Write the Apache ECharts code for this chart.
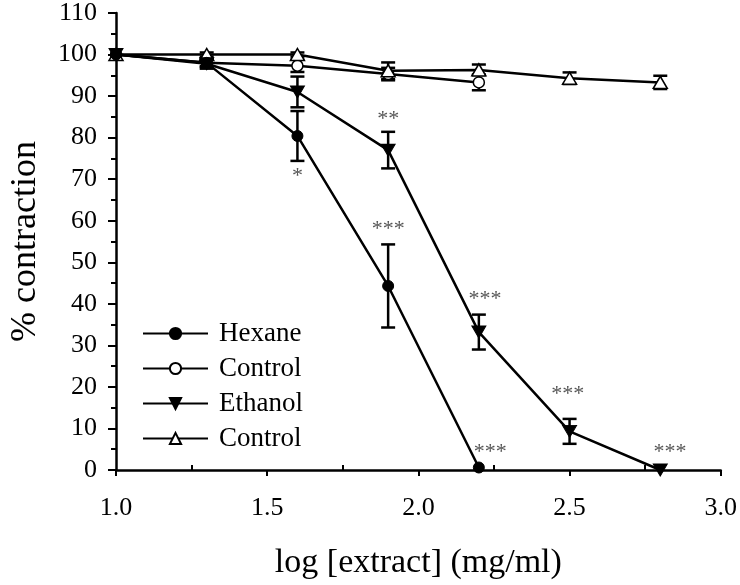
<!DOCTYPE html>
<html>
<head>
<meta charset="utf-8">
<script src="https://cdn.jsdelivr.net/npm/echarts@6/dist/echarts.min.js"></script>
<style>
  html, body { margin: 0; padding: 0; background: #fff; }
  #main { width: 740px; height: 585px; }
</style>
</head>
<body>
<div id="main"></div>
<script>
// log [extract] values
const logDose = [1.0, 1.3, 1.6, 1.9, 2.2, 2.5, 2.8];

// % contraction, mean and error
const hexane = [100, 98, 80.4, 44.3, 0.6];
const hexaneErr = [0, 1, 6, 10, 0];
const hexaneCtrl = [100, 98, 97.3, 95.3, 93.3];
const hexaneCtrlErr = [0, 0.8, 1.5, 1.5, 1.9];
const ethanol = [100, 97.8, 91, 77, 33.2, 9.3, 0];
const ethanolErr = [0, 1.2, 3.7, 4.4, 4.2, 3, 0];
const ethanolCtrl = [100, 100, 100, 96.1, 96.3, 94.3, 93.3];
const ethanolCtrlErr = [0, 0.5, 0.5, 2, 1.3, 1.4, 1.6];

// significance marks [x, y, text]
const stars = [
  [1.6, 70.8, '*'],
  [1.9, 84.4, '**'],
  [1.9, 58.0, '***'],
  [2.22, 41.1, '***'],
  [2.494, 18.3, '***'],
  [2.238, 4.4, '***'],
  [2.832, 4.4, '***']
];

const font = 'Liberation Serif';

function pairs(vals, errs) {
  return vals.map((v, i) => errs ? [logDose[i], v, errs[i]] : [logDose[i], v]);
}

function renderErr(params, api) {
  const x = api.value(0), y = api.value(1), e = api.value(2);
  if (!e) return;
  const top = api.coord([x, y + e]);
  const bot = api.coord([x, y - e]);
  const hw = 7;
  const style = { stroke: '#000', lineWidth: 2.5 };
  return {
    type: 'group',
    children: [
      { type: 'line', shape: { x1: top[0], y1: top[1], x2: bot[0], y2: bot[1] }, style: style },
      { type: 'line', shape: { x1: top[0] - hw, y1: top[1], x2: top[0] + hw, y2: top[1] }, style: style },
      { type: 'line', shape: { x1: bot[0] - hw, y1: bot[1], x2: bot[0] + hw, y2: bot[1] }, style: style }
    ]
  };
}

function renderStar(params, api) {
  const p = api.coord([api.value(0), api.value(1)]);
  return {
    type: 'text',
    x: p[0],
    y: p[1],
    style: {
      text: stars[params.dataIndex][2],
      fill: '#555',
      font: '22px "' + font + '"',
      align: 'center',
      verticalAlign: 'middle'
    }
  };
}

function errSeries(vals, errs) {
  return {
    type: 'custom',
    renderItem: renderErr,
    data: pairs(vals, errs),
    encode: { x: 0, y: 1 },
    z: 1,
    silent: true
  };
}

function lineSeries(name, vals, symbol, filled, size, rotate) {
  return {
    name: name,
    type: 'line',
    data: pairs(vals),
    symbol: symbol,
    symbolSize: size,
    symbolRotate: rotate || 0,
    showSymbol: true,
    lineStyle: { color: '#000', width: 2.5 },
    itemStyle: filled
      ? { color: '#000', borderColor: '#000', borderWidth: 1 }
      : { color: '#fff', borderColor: '#000', borderWidth: 1.5 },
    z: 3,
    emphasis: { disabled: true }
  };
}

const chart = echarts.init(document.getElementById('main'));

const option = {
  animation: false,
  backgroundColor: '#fff',
  grid: { left: 111, right: 17, top: 9, bottom: 113 },
  legend: {
    orient: 'vertical',
    left: 137,
    top: 315,
    itemWidth: 65,
    itemHeight: 14,
    itemGap: 8,
    selectedMode: false,
    data: ['Hexane', 'Control (hexane)', 'Ethanol', 'Control (ethanol)'],
    formatter: function (name) {
      return name.indexOf('Control') === 0 ? 'Control' : name;
    },
    textStyle: { fontFamily: font, fontSize: 27, lineHeight: 27, color: '#000', padding: [0, 0, 0, 6] }
  },
  xAxis: [
    {
      type: 'value',
      min: 1,
      max: 3,
      interval: 0.5,
      name: 'log [extract] (mg/ml)',
      nameLocation: 'middle',
      nameGap: 76,
      nameTextStyle: { fontFamily: font, fontSize: 34, color: '#000' },
      axisLine: { lineStyle: { color: '#000', width: 2.5 } },
      axisTick: { length: 6, lineStyle: { color: '#000', width: 2 } },
      splitLine: { show: false },
      axisLabel: {
        fontFamily: font,
        fontSize: 26,
        color: '#000',
        margin: 25,
        formatter: function (v) { return v.toFixed(1); }
      }
    },
    {
      type: 'value',
      position: 'bottom',
      min: 1,
      max: 3,
      interval: 0.5,
      axisLine: { show: false },
      axisTick: { show: false, inside: true },
      minorTick: { show: true, splitNumber: 2, length: 5, lineStyle: { color: '#000', width: 2 } },
      axisLabel: { show: false },
      splitLine: { show: false }
    }
  ],
  yAxis: {
    type: 'value',
    min: 0,
    max: 110,
    interval: 10,
    name: '% contraction',
    nameLocation: 'middle',
    nameGap: 72,
    nameTextStyle: { fontFamily: font, fontSize: 36, color: '#000' },
    axisLine: { show: true, lineStyle: { color: '#000', width: 2.5 } },
    axisTick: { show: true, length: 8, lineStyle: { color: '#000', width: 2 } },
    minorTick: { show: true, splitNumber: 2, length: 5, lineStyle: { color: '#000', width: 2 } },
    splitLine: { show: false },
    axisLabel: { fontFamily: font, fontSize: 26, color: '#000', margin: 19 }
  },
  series: [
    errSeries(hexaneCtrl, hexaneCtrlErr),
    errSeries(ethanolCtrl, ethanolCtrlErr),
    errSeries(hexane, hexaneErr),
    errSeries(ethanol, ethanolErr),
    lineSeries('Control (hexane)', hexaneCtrl, 'circle', false, 11),
    lineSeries('Control (ethanol)', ethanolCtrl, 'triangle', false, [14, 12]),
    lineSeries('Hexane', hexane, 'circle', true, 11),
    lineSeries('Ethanol', ethanol, 'triangle', true, [14, 12], 180),
    {
      type: 'custom',
      renderItem: renderStar,
      data: stars.map(s => [s[0], s[1]]),
      encode: { x: 0, y: 1 },
      silent: true,
      z: 4
    }
  ]
};

chart.setOption(option);
</script>
</body>
</html>
